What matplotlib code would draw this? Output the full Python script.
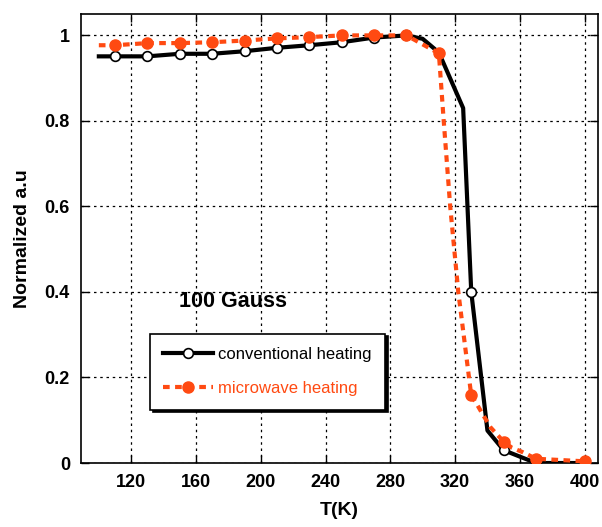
import matplotlib

matplotlib.use("Agg")
import matplotlib.pyplot as plt

plt.rcParams["font.family"] = ["Liberation Sans", "DejaVu Sans"]

# conventional heating (black, open circles)
T_CONV = [100, 110, 130, 150, 170, 190, 210, 230, 250, 270, 290, 300, 310, 325, 330, 340, 350, 370, 400]
Y_CONV = [0.951, 0.951, 0.951, 0.957, 0.957, 0.963, 0.971, 0.977, 0.984, 0.995, 1.0, 0.992, 0.96, 0.83,
          0.40, 0.076, 0.03, 0.0, 0.0]
CONV_MARKS = [1, 2, 3, 4, 5, 6, 7, 8, 9, 10, 14, 16, 17, 18]

# microwave heating (orange, filled circles)
T_MW = [100, 110, 130, 150, 170, 190, 210, 230, 250, 270, 290, 310, 313, 317, 322, 330, 334, 338, 342,
        350, 355, 362, 370, 400]
Y_MW = [0.977, 0.977, 0.982, 0.982, 0.984, 0.988, 0.993, 0.996, 1.0, 1.0, 1.0, 0.958, 0.80, 0.60, 0.40,
        0.158, 0.134, 0.108, 0.083, 0.05, 0.036, 0.025, 0.01, 0.004]
MW_MARKS = [1, 2, 3, 4, 5, 6, 7, 8, 9, 10, 11, 15, 19, 22, 23]

X_TICKS = [120, 160, 200, 240, 280, 320, 360, 400]
Y_TICKS = [0, 0.2, 0.4, 0.6, 0.8, 1.0]
Y_LABELS = ["0", "0.2", "0.4", "0.6", "0.8", "1"]

ORANGE = "#ff4a12"

fig = plt.figure(figsize=(6.02, 5.27), dpi=100)
ax = fig.add_axes([0.1346, 0.1214, 0.858, 0.852])

ax.plot(T_MW, Y_MW, color=ORANGE, lw=3, ls=(0, (1.6, 1.3)), marker="o", markevery=MW_MARKS,
        ms=8, mfc=ORANGE, mec=ORANGE, label="microwave heating", zorder=3)
ax.plot(T_CONV, Y_CONV, color="black", lw=3, marker="o", markevery=CONV_MARKS,
        ms=7, mfc="white", mec="black", mew=1.2, label="conventional heating", zorder=2)

ax.set_xlim(89, 408)
ax.set_ylim(0, 1.05)
ax.set_xticks(X_TICKS)
ax.set_yticks(Y_TICKS)
ax.set_yticklabels(Y_LABELS)
ax.tick_params(direction="in", length=6, width=1, top=True, right=True, labelsize=13, pad=8)
for lab in ax.get_xticklabels() + ax.get_yticklabels():
    lab.set_fontweight("bold")
ax.grid(True, color="black", ls=(0, (2, 3)), lw=0.9)
for sp in ax.spines.values():
    sp.set_linewidth(1.2)

ax.set_xlabel("T(K)", fontsize=14, fontweight="bold", labelpad=8)
ax.set_ylabel("Normalized a.u", fontsize=14, fontweight="bold", labelpad=10)

ax.text(0.19, 0.36, "100 Gauss", transform=ax.transAxes, fontsize=15.5, fontweight="bold",
        ha="left", va="center")

handles, labels = ax.get_legend_handles_labels()
leg = ax.legend(handles[::-1], labels[::-1], loc="upper left", bbox_to_anchor=(0.133, 0.288),
                frameon=True, fancybox=False, shadow={"color": "black", "alpha": 1},
                edgecolor="black", fontsize=12, handlelength=3.0, labelspacing=1.15,
                borderpad=0.8, handletextpad=0.3, borderaxespad=0)
leg.get_frame().set_linewidth(1.2)
leg.get_texts()[1].set_color(ORANGE)

fig.savefig("out.png", dpi=100, facecolor="white")
